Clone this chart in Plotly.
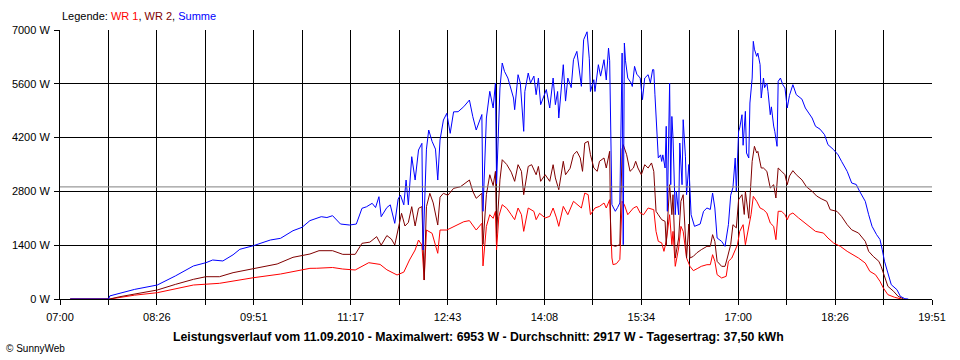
import plotly.graph_objects as go

# ---------------- data ----------------
summe_time = ["07:09","07:43","07:44","07:53","08:06","08:26","08:42","08:58","09:09","09:15","09:24","09:33","09:39","09:51",
 "10:06","10:15","10:26","10:34","10:41","10:51","10:56","11:01","11:08","11:16","11:22","11:27","11:31","11:36","11:39",
 "11:42","11:44","11:49","11:52","11:56","11:59","12:01","12:04","12:06","12:08","12:11","12:14","12:17","12:20","12:21",
 "12:24","12:26","12:29","12:32","12:34","12:36","12:39","12:42","12:45","12:48","12:52","12:57","13:02","13:05","13:08",
 "13:13","13:14","13:17","13:20","13:23","13:25","13:26","13:29","13:31","13:33","13:36","13:39","13:41","13:42","13:45",
 "13:47","13:50","13:51","13:54","13:56","13:59","14:01","14:03","14:05","14:07","14:10","14:13","14:16","14:18","14:20",
 "14:21","14:24","14:25","14:27","14:29","14:32","14:34","14:37","14:39","14:41","14:43","14:46","14:48","14:49","14:52",
 "14:53","14:56","14:58","15:01","15:03","15:05","15:06","15:08","15:11","15:13","15:15","15:17","15:18","15:19","15:20",
 "15:22","15:25","15:26","15:28","15:30","15:33","15:35","15:37","15:40","15:42","15:44","15:45","15:46","15:48","15:49",
 "15:51","15:52","15:53","15:55","15:56","15:57","15:59","16:00","16:01","16:02","16:04","16:05","16:07","16:08","16:10",
 "16:11","16:13","16:14","16:16","16:17","16:18","16:21","16:26","16:29","16:32","16:35","16:37","16:39","16:41","16:45",
 "16:48","16:51","16:53","16:55","16:57","16:58","17:00","17:01","17:03","17:04","17:06","17:07","17:09","17:10","17:12",
 "17:13","17:14","17:16","17:17","17:19","17:20","17:22","17:23","17:25","17:26","17:28","17:29","17:31","17:32","17:34",
 "17:35","17:37","17:39","17:41","17:43","17:45","17:48","17:51","17:56","17:59","18:02","18:05","18:08","18:12","18:16",
 "18:19","18:24","18:28","18:31","18:36","18:40","18:44","18:47","18:52","18:55","18:58","19:02","19:05","19:07","19:09",
 "19:12","19:15","19:20","19:23","19:27","19:30"]
summe_w = [0,0,80,150,250,364,600,860,945,1015,990,1150,1293,1387,
 1535,1579,1777,1865,2040,2142,2120,2168,1951,1925,1950,2360,2400,2490,2380,
 2662,2142,2380,2450,1969,2600,2706,2450,3096,2450,3703,3096,3877,4051,1275,
 3900,4397,4100,3900,3096,4137,4657,4831,4311,4870,4874,5004,5178,4744,4397,
 4800,2282,4710,5404,4970,5620,3000,5490,6141,5924,5750,5447,5230,4926,5837,
 5620,4363,5400,5880,5620,5800,5317,5750,5057,5230,5450,4970,5750,5057,5400,
 4710,5620,6097,5150,5750,5500,6227,6444,6000,5534,6747,6953,6250,5400,5707,
 5400,6097,5800,6227,5700,6531,6200,2454,2282,2380,2498,6401,1413,6661,6200,
 5750,5620,5530,6054,5850,5750,5187,5750,5837,5620,5970,5967,5330,4059,3669,
 3750,3580,3750,3409,4494,2282,5620,2974,4750,4200,2194,2800,2194,4059,2974,
 4666,3700,2714,3500,2600,2194,1891,1950,2282,2368,2330,2758,2368,1587,1500,
 1370,1934,2700,2900,3669,2800,4363,4450,4795,4000,4883,3800,3669,5100,5750,
 6705,6500,6314,6400,6100,5230,5750,5500,5620,5400,4795,5000,4500,4363,3973,
 5664,5750,5580,5490,4970,5300,5577,5317,5200,4970,4850,4710,4494,4420,4276,
 4016,3886,3750,3583,3322,3018,2980,2802,2542,2194,1891,1674,1550,1283,981,
 677,372,242,70,8,0]

wr2_time = ["07:09","07:44","07:53","08:06","08:26","08:42","08:58","09:09","09:21","09:33","09:51","10:12","10:26","10:41",
 "10:49","11:01","11:10","11:21","11:27","11:34","11:40","11:44","11:49","11:53","11:56","11:59","12:02","12:05","12:08",
 "12:11","12:14","12:17","12:20","12:22","12:24","12:27","12:30","12:34","12:36","12:39","12:43","12:48","12:54","13:02",
 "13:05","13:08","13:13","13:14","13:17","13:20","13:23","13:25","13:26","13:29","13:31","13:35","13:39","13:42","13:45",
 "13:48","13:50","13:54","13:57","14:01","14:03","14:05","14:09","14:13","14:16","14:18","14:21","14:25","14:27","14:31",
 "14:34","14:37","14:40","14:42","14:44","14:47","14:49","14:52","14:55","14:57","15:01","15:03","15:06","15:07","15:11",
 "15:15","15:17","15:18","15:21","15:24","15:27","15:29","15:31","15:34","15:37","15:40","15:43","15:45","15:47","15:49",
 "15:52","15:55","15:56","15:59","16:01","16:02","16:04","16:07","16:09","16:11","16:14","16:16","16:17","16:20","16:23",
 "16:27","16:32","16:35","16:37","16:39","16:41","16:45","16:48","16:50","16:53","16:55","16:58","17:00","17:03","17:05",
 "17:06","17:09","17:11","17:12","17:14","17:16","17:17","17:20","17:22","17:25","17:28","17:31","17:33","17:35","17:38",
 "17:41","17:43","17:45","17:48","17:51","17:56","18:00","18:05","18:09","18:13","18:18","18:21","18:27","18:31","18:36",
 "18:40","18:46","18:52","18:55","18:59","19:04","19:06","19:09","19:12","19:17","19:21","19:26"]
wr2_w = [0,0,60,130,234,380,512,580,580,685,798,911,1085,1171,
 1257,1257,1162,1162,1449,1480,1622,1400,1650,1560,1405,1838,2230,1900,1990,
 2403,1900,2360,2403,494,2403,2750,2500,1925,2650,2750,2700,2880,2920,3096,
 2800,2620,2750,1420,2714,3234,2950,3322,1720,3100,3625,3500,3300,3062,3495,
 3322,2714,3450,3495,3234,3450,3062,3234,3062,3495,3150,2844,3583,3234,3400,
 3755,3843,3670,3322,4059,4103,3755,3409,3322,3583,3670,3409,3843,1413,1370,
 1413,3900,4016,3755,3322,3409,3583,3409,3234,3495,3409,3540,3322,2282,2194,
 2064,2020,1400,2974,2194,2714,1067,1587,2542,2714,1067,1950,1067,1110,1200,
 1283,1370,1370,1674,1500,980,850,850,1067,1413,1934,1850,2584,2714,2200,
 2800,2100,3148,3583,3973,3800,3843,3409,3409,3322,2888,2974,2628,3409,3322,
 3234,2974,3200,3340,3234,3100,2920,2802,2680,2610,2540,2324,2280,2151,1934,
 1800,1717,1501,1240,1110,981,850,590,330,200,70,0]

wr1_time = ["07:09","07:44","07:53","08:06","08:26","08:42","08:58","09:21","09:51","10:15","10:41","10:47","11:01","11:10",
 "11:21","11:33","11:43","11:49","11:58","12:04","12:09","12:14","12:17","12:20","12:22","12:24","12:29","12:34","12:36",
 "12:42","12:48","12:57","13:02","13:08","13:13","13:14","13:17","13:20","13:23","13:25","13:26","13:28","13:31","13:35",
 "13:39","13:42","13:45","13:48","13:50","13:54","13:59","14:01","14:04","14:09","14:13","14:16","14:19","14:21","14:25",
 "14:29","14:34","14:38","14:41","14:44","14:47","14:49","14:53","14:57","15:01","15:03","15:06","15:08","15:09","15:12",
 "15:15","15:17","15:19","15:22","15:27","15:30","15:33","15:36","15:40","15:45","15:47","15:49","15:52","15:54","15:56",
 "15:59","16:01","16:02","16:04","16:07","16:09","16:11","16:14","16:17","16:20","16:24","16:27","16:32","16:35","16:37",
 "16:39","16:41","16:45","16:49","16:51","16:54","16:57","16:59","17:01","17:04","17:06","17:09","17:11","17:13","17:16",
 "17:19","17:22","17:25","17:28","17:31","17:33","17:35","17:38","17:41","17:43","17:45","17:48","17:53","17:59","18:05",
 "18:08","18:15","18:19","18:24","18:30","18:36","18:41","18:46","18:52","18:56","19:01","19:05","19:08","19:12","19:18",
 "19:24"]
wr1_w = [0,0,40,100,164,270,364,408,554,650,798,800,820,780,
 755,945,900,760,625,700,1015,1275,1535,1400,494,1795,1709,1189,1795,
 1795,1880,2011,2040,1795,1970,860,1890,2194,2100,2280,1283,2150,2454,2360,
 2194,2064,2368,2194,1760,2368,2280,2064,2230,2110,2150,2368,2110,1891,2410,
 2194,2542,2454,2368,2758,2714,2194,2368,2410,2498,2368,2584,1067,893,920,
 1030,2542,2454,2194,2368,2410,2238,2194,2368,2324,1760,1501,1460,1240,1500,
 2194,1413,1760,850,1327,1890,1760,1067,850,737,800,850,893,893,1153,
 980,633,547,590,980,1067,1283,1413,1760,1934,1413,1847,2194,2672,2542,
 2368,2324,2238,1978,1890,1544,2282,2282,2194,2064,2194,2238,2110,1978,1847,
 1760,1717,1587,1457,1370,1240,1153,1067,935,720,633,460,286,113,44,
 0]

x_labels = ["07:00", "08:26", "09:51", "11:17", "12:43", "14:08", "15:34", "17:00", "18:26", "19:51"]
y_ticks = [0, 1400, 2800, 4200, 5600, 7000]
durchschnitt = 2917
title_text = "Leistungsverlauf vom 11.09.2010 - Maximalwert: 6953 W - Durchschnitt: 2917 W - Tagesertrag: 37,50 kWh"
series_names = ["WR 1", "WR 2", "Summe"]
series_colors = ["#FF0000", "#800000", "#0000FF"]


def to_min(s):
    h, m = s.split(":")
    return int(h) * 60 + int(m)


x_start = to_min(x_labels[0])
x_end = to_min(x_labels[-1])
n_int = 2 * (len(x_labels) - 1)
tickvals = [x_start + (x_end - x_start) * i / n_int for i in range(n_int + 1)]
ticktext = [x_labels[i // 2] if i % 2 == 0 else "" for i in range(n_int + 1)]

FONT = "Liberation Sans, Arial, sans-serif"

fig = go.Figure()
for t, w, name, col in zip([wr1_time, wr2_time, summe_time], [wr1_w, wr2_w, summe_w], series_names, series_colors):
    fig.add_trace(go.Scatter(x=[to_min(s) for s in t], y=w, mode="lines", name=name,
                             line=dict(color=col, width=1), hoverinfo="skip"))

fig.add_shape(type="line", xref="paper", x0=0, x1=1, yref="y", y0=durchschnitt, y1=durchschnitt,
              line=dict(color="#808080", width=1), layer="above")

fig.update_layout(
    width=960, height=360,
    margin=dict(l=60, r=28, t=30, b=61, autoexpand=False),
    paper_bgcolor="white", plot_bgcolor="white",
    showlegend=False,
    font=dict(family=FONT, size=11, color="black"),
    xaxis=dict(range=[x_start, x_end], tickmode="array", tickvals=tickvals, ticktext=ticktext,
               showgrid=True, gridcolor="black", gridwidth=1, showline=True, linecolor="black", linewidth=1,
               ticks="outside", ticklen=5, tickcolor="black", zeroline=False, fixedrange=True,
               ticklabelstandoff=3,
               tickfont=dict(family=FONT, size=11, color="black")),
    yaxis=dict(range=[0, 7000], tickmode="array", tickvals=y_ticks, ticktext=[f"{v} W" for v in y_ticks],
               showgrid=True, gridcolor="black", gridwidth=1, showline=True, linecolor="black", linewidth=1,
               ticks="outside", ticklen=5, tickcolor="black", zeroline=False, fixedrange=True,
               ticklabelstandoff=2,
               tickfont=dict(family=FONT, size=11, color="black")),
)

legend_html = "Legende: " + ", ".join(
    f"<span style='color:{c}'>{n}</span>" for n, c in zip(series_names, series_colors))
fig.add_annotation(text=legend_html, xref="paper", yref="paper", x=0, y=1, yshift=14,
                   xanchor="left", yanchor="middle", showarrow=False, font=dict(family=FONT, size=11))
fig.add_annotation(text="<b>" + title_text + "</b>", xref="paper", yref="paper", x=0.48, y=0, yshift=-38,
                   xanchor="center", yanchor="middle", showarrow=False, font=dict(family=FONT, size=12.3))
fig.add_annotation(text="© SunnyWeb", xref="paper", yref="paper", x=0, xshift=-56, y=0, yshift=-49,
                   xanchor="left", yanchor="middle", showarrow=False, font=dict(family=FONT, size=10))

fig.write_html("out.html", config={"displayModeBar": False},
               post_script="document.body.style.margin='0';document.body.style.overflow='hidden';")
